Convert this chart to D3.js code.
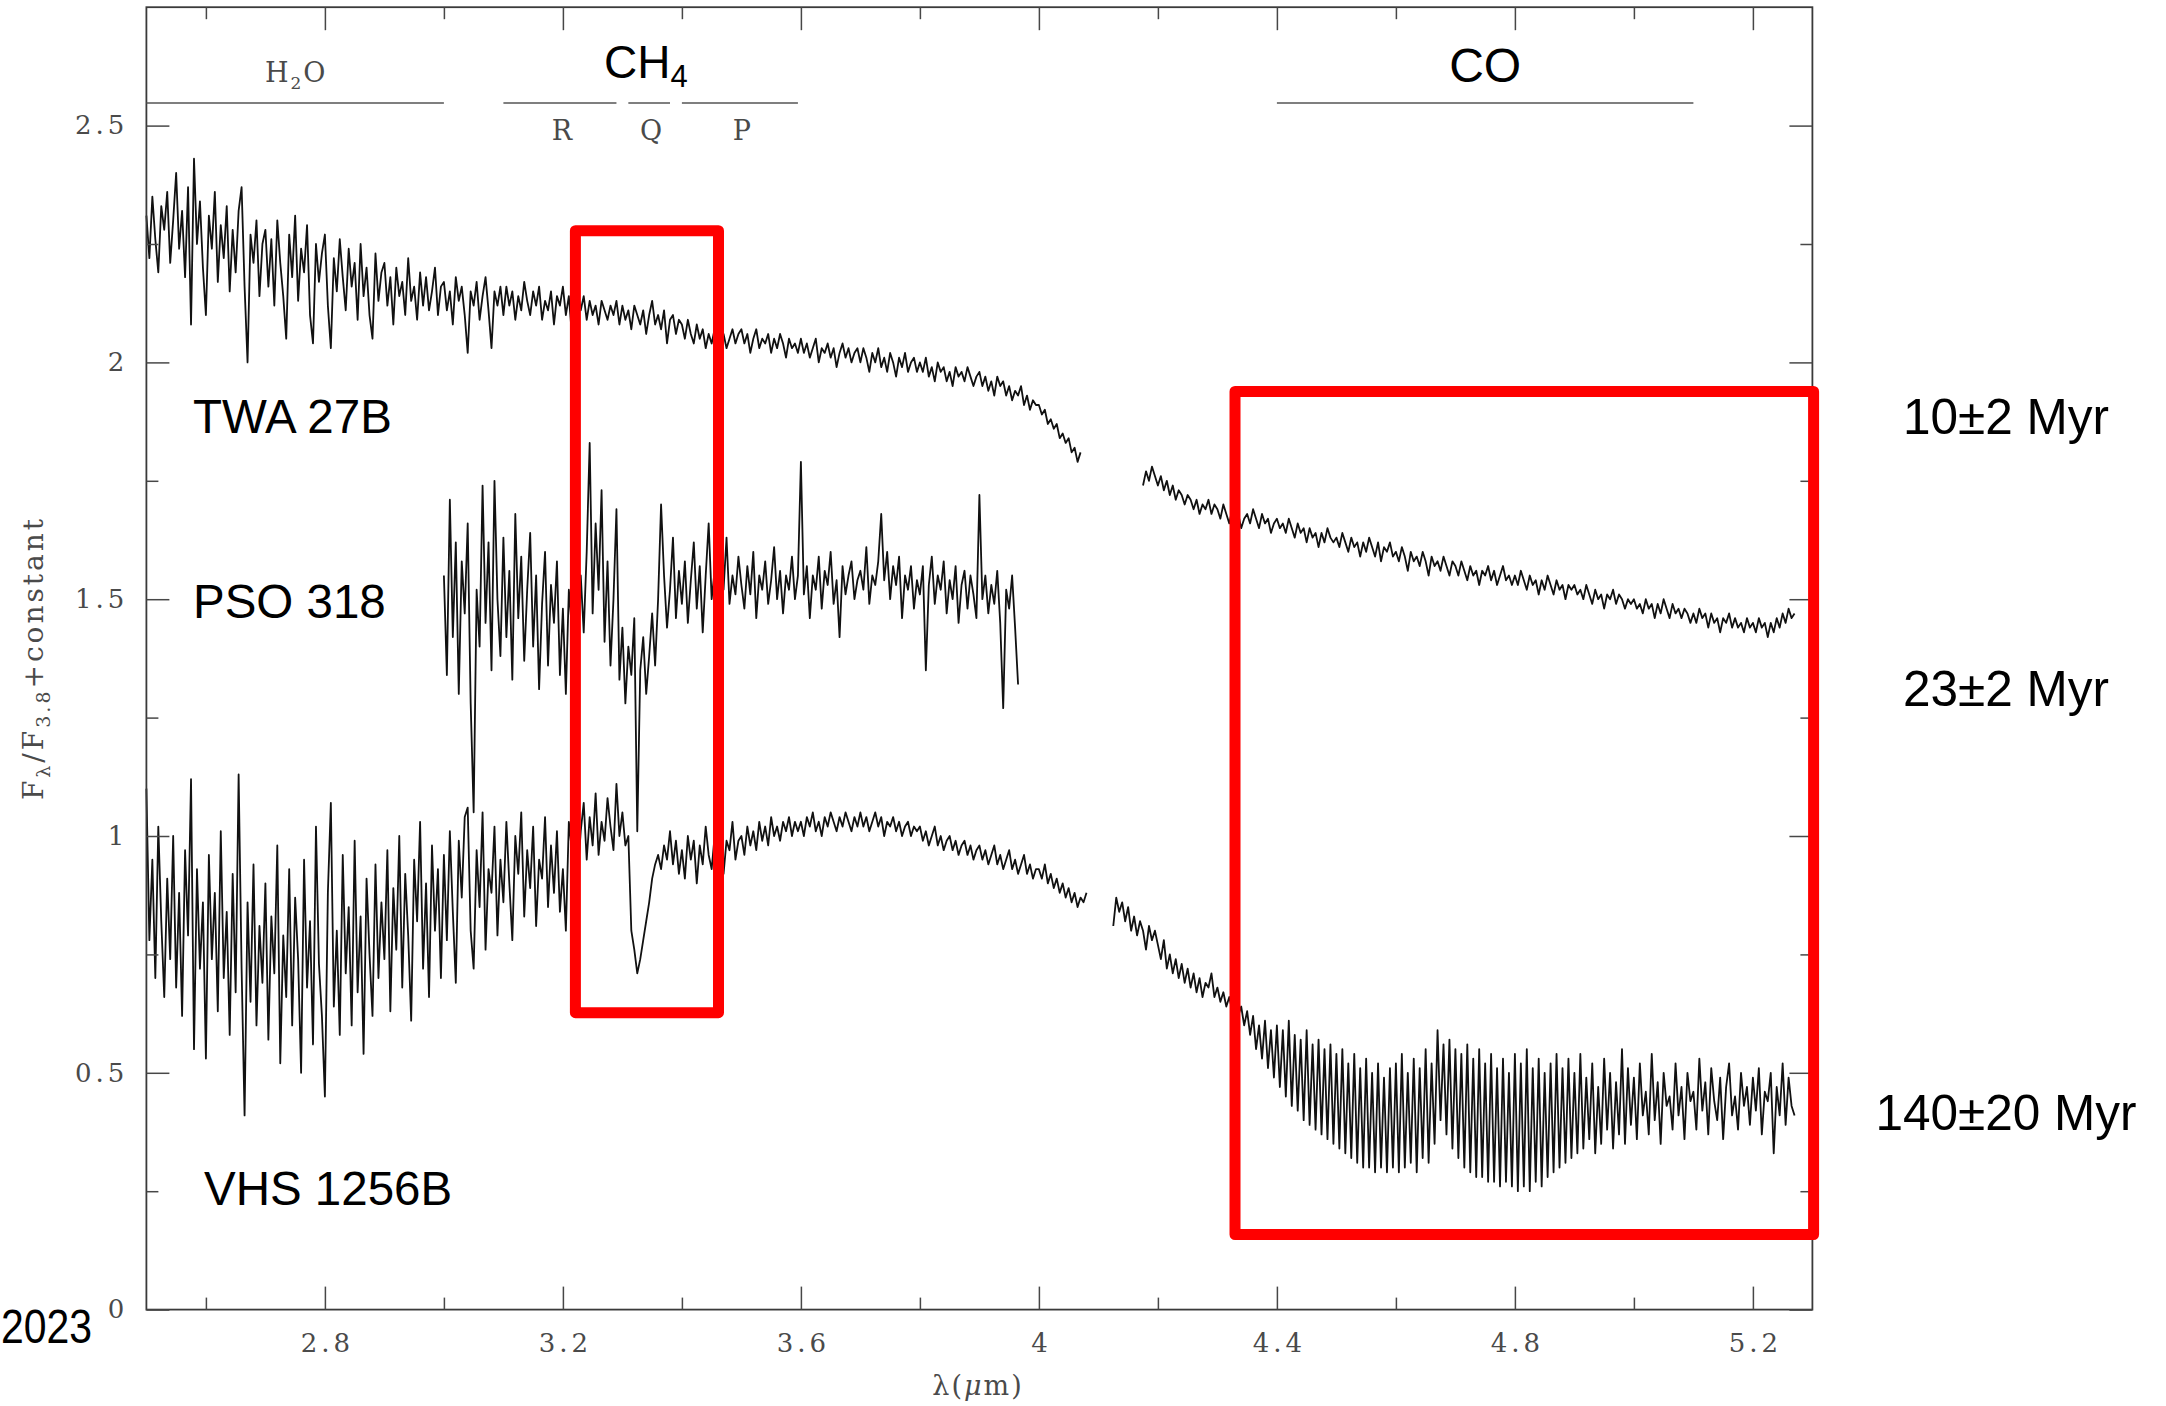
<!DOCTYPE html>
<html>
<head>
<meta charset="utf-8">
<script src="https://cdn.jsdelivr.net/npm/d3@7"></script>
<style>
  html, body { margin: 0; padding: 0; background: #ffffff; }
  svg { display: block; }
</style>
</head>
<body>
<svg id="chart" width="2166" height="1406"></svg>
<script>
// ---------------- DATA ----------------
// wavelength grid step of every spectrum segment (micron)
const specStep = 0.005;

// TWA 27B, part 1: 2.500 - 4.070 micron
const twaSeg1Start = 2.500;
const twaSeg1Flux = [
  2.31,2.22,2.35,2.26,2.19,2.33,2.28,2.36,2.21,2.30,2.40,2.24,2.32,2.18,2.37,2.08,2.43,2.25,2.34,2.20,
  2.10,2.31,2.24,2.36,2.17,2.29,2.22,2.33,2.15,2.28,2.19,2.32,2.37,2.16,2.00,2.27,2.21,2.30,2.14,2.25,
  2.28,2.16,2.26,2.12,2.30,2.21,2.14,2.05,2.27,2.18,2.31,2.13,2.24,2.19,2.29,2.10,2.04,2.25,2.17,2.23,
  2.27,2.12,2.03,2.22,2.15,2.26,2.18,2.11,2.24,2.16,2.21,2.09,2.25,2.14,2.20,2.10,2.05,2.23,2.13,2.19,
  2.21,2.12,2.18,2.08,2.20,2.14,2.17,2.10,2.22,2.13,2.16,2.09,2.19,2.12,2.18,2.11,2.15,2.20,2.10,2.16,
  2.17,2.11,2.15,2.08,2.18,2.13,2.16,2.10,2.02,2.15,2.12,2.17,2.09,2.14,2.18,2.11,2.03,2.15,2.12,2.16,
  2.10,2.16,2.12,2.15,2.09,2.14,2.11,2.17,2.13,2.10,2.15,2.12,2.16,2.09,2.13,2.11,2.15,2.08,2.14,2.12,
  2.16,2.10,2.14,2.06,2.13,2.15,2.11,2.14,2.09,2.13,2.10,2.12,2.08,2.13,2.11,2.09,2.12,2.10,2.13,2.08,
  2.12,2.09,2.11,2.07,2.12,2.10,2.08,2.11,2.06,2.10,2.13,2.08,2.10,2.07,2.11,2.04,2.09,2.10,2.06,2.09,
  2.08,2.05,2.09,2.06,2.04,2.08,2.05,2.07,2.03,2.06,2.04,2.07,2.09,2.05,2.06,2.03,2.05,2.07,2.04,2.06,
  2.07,2.04,2.06,2.02,2.05,2.07,2.03,2.05,2.04,2.06,2.02,2.05,2.03,2.06,2.04,2.01,2.05,2.03,2.04,2.02,
  2.05,2.02,2.04,2.01,2.03,2.05,2.00,2.03,2.02,2.04,2.01,2.03,1.99,2.02,2.04,2.01,2.03,2.00,2.02,2.03,
  2.00,2.03,2.01,1.98,2.02,2.00,2.03,1.99,2.01,1.98,2.02,2.00,1.97,2.01,1.99,2.02,1.98,2.00,2.01,1.98,
  2.00,1.98,2.01,1.97,1.99,1.96,2.00,1.98,1.99,1.96,1.98,1.95,1.99,1.97,1.98,1.96,1.99,1.97,1.95,1.97,
  1.98,1.95,1.97,1.94,1.96,1.93,1.97,1.95,1.96,1.93,1.95,1.92,1.94,1.93,1.95,1.91,1.93,1.90,1.92,1.91,
  1.91,1.89,1.90,1.87,1.88,1.86,1.87,1.84,1.85,1.83,1.84,1.81,1.82,1.79,1.81
];

// TWA 27B, part 2: 4.175 - 5.270 micron
const twaSeg2Start = 4.175;
const twaSeg2Flux = [
  1.74,1.77,1.75,1.78,1.76,
  1.74,1.76,1.73,1.75,1.72,1.74,1.71,1.73,1.72,1.70,1.72,1.71,1.69,1.71,1.68,1.70,1.69,1.71,1.68,1.70,
  1.69,1.67,1.70,1.68,1.66,1.69,1.67,1.68,1.65,1.67,1.68,1.66,1.69,1.67,1.65,1.68,1.66,1.67,1.64,1.66,
  1.67,1.65,1.66,1.64,1.67,1.65,1.63,1.66,1.64,1.65,1.62,1.65,1.63,1.64,1.61,1.64,1.62,1.65,1.63,1.62,
  1.63,1.61,1.64,1.62,1.60,1.63,1.61,1.62,1.59,1.62,1.60,1.63,1.61,1.59,1.62,1.58,1.61,1.60,1.62,1.59,
  1.60,1.58,1.61,1.59,1.56,1.60,1.58,1.59,1.57,1.60,1.58,1.55,1.59,1.57,1.58,1.56,1.59,1.57,1.55,1.58,
  1.57,1.55,1.58,1.56,1.54,1.57,1.55,1.56,1.53,1.56,1.55,1.57,1.54,1.56,1.53,1.55,1.57,1.54,1.55,1.53,
  1.55,1.53,1.56,1.54,1.52,1.55,1.53,1.54,1.51,1.54,1.52,1.55,1.53,1.51,1.54,1.52,1.53,1.50,1.53,1.52,
  1.53,1.51,1.52,1.50,1.53,1.51,1.49,1.52,1.50,1.51,1.48,1.51,1.50,1.52,1.49,1.51,1.50,1.48,1.50,1.49,
  1.50,1.48,1.49,1.47,1.50,1.48,1.49,1.46,1.49,1.47,1.50,1.48,1.46,1.49,1.47,1.48,1.46,1.48,1.47,1.45,
  1.47,1.45,1.48,1.46,1.47,1.44,1.47,1.45,1.46,1.43,1.46,1.45,1.47,1.44,1.46,1.44,1.45,1.43,1.46,1.44,
  1.45,1.43,1.46,1.44,1.45,1.42,1.45,1.43,1.46,1.44,1.47,1.45,1.48,1.46,1.47
];

// PSO 318: 3.000 - 3.965 micron
const psoStart = 3.000;
const psoFlux = [
  1.55,1.34,1.71,1.42,1.62,1.30,1.58,1.47,1.66,1.28,1.05,1.52,1.40,1.74,1.45,1.62,1.35,1.75,1.50,1.38,
  1.63,1.42,1.56,1.33,1.68,1.46,1.59,1.37,1.52,1.64,1.40,1.55,1.31,1.49,1.60,1.36,1.53,1.45,1.58,1.34,
  1.48,1.30,1.52,1.44,1.62,1.38,1.55,1.43,1.60,1.83,1.47,1.66,1.52,1.73,1.41,1.58,1.36,1.50,1.69,1.33,
  1.44,1.28,1.40,1.34,1.46,1.01,1.35,1.42,1.30,1.38,1.47,1.36,1.50,1.70,1.55,1.44,1.52,1.63,1.46,1.56,
  1.49,1.58,1.45,1.54,1.62,1.48,1.57,1.43,1.55,1.66,1.50,1.56,1.47,1.58,1.52,1.63,1.49,1.55,1.51,1.59,
  1.53,1.48,1.57,1.51,1.60,1.46,1.55,1.52,1.58,1.49,1.54,1.61,1.50,1.56,1.47,1.55,1.52,1.59,1.50,1.55,
  1.79,1.51,1.57,1.46,1.55,1.52,1.59,1.48,1.56,1.53,1.60,1.49,1.54,1.42,1.57,1.51,1.55,1.58,1.50,1.54,
  1.56,1.52,1.61,1.49,1.55,1.53,1.58,1.68,1.54,1.60,1.50,1.57,1.53,1.59,1.46,1.55,1.52,1.57,1.48,1.54,
  1.51,1.57,1.35,1.53,1.59,1.49,1.55,1.52,1.58,1.47,1.54,1.50,1.57,1.45,1.53,1.56,1.48,1.55,1.51,1.46,
  1.72,1.50,1.55,1.47,1.53,1.49,1.56,1.45,1.27,1.52,1.48,1.55,1.44,1.32
];

// VHS 1256B, part 1: 2.500 - 4.080 micron
const vhsSeg1Start = 2.500;
const vhsSeg1Flux = [
  1.10,0.78,0.95,0.70,1.02,0.82,0.66,0.91,0.74,1.00,0.68,0.88,0.62,0.97,0.79,1.12,0.55,0.93,0.72,0.86,
  0.53,0.96,0.74,0.88,0.63,1.01,0.70,0.84,0.58,0.92,0.67,1.13,0.72,0.41,0.86,0.65,0.94,0.60,0.81,0.69,
  0.90,0.57,0.83,0.71,0.98,0.52,0.79,0.66,0.93,0.60,0.87,0.74,0.50,0.95,0.68,0.82,0.56,1.02,0.73,0.62,
  0.45,0.88,1.07,0.64,0.80,0.58,0.96,0.71,0.85,0.60,0.99,0.67,0.83,0.54,0.91,0.75,0.62,0.94,0.70,0.86,
  0.74,0.97,0.63,0.89,0.76,1.00,0.68,0.92,0.79,0.61,0.95,0.82,1.03,0.72,0.90,0.66,0.98,0.80,0.93,0.70,
  0.96,0.78,1.01,0.84,0.69,0.99,0.87,1.04,1.06,0.80,0.72,0.97,0.85,1.05,0.76,0.93,0.88,1.02,0.79,0.95,
  0.86,1.03,0.90,0.78,1.00,0.92,1.05,0.83,0.97,0.89,1.02,0.81,0.95,0.91,1.04,0.85,0.98,0.88,1.01,0.84,
  0.93,0.80,1.03,0.97,1.06,0.92,1.01,1.07,0.95,1.04,0.98,1.09,0.96,1.03,0.99,1.08,1.02,0.97,1.11,1.00,
  1.05,0.98,1.00,0.80,0.76,0.71,0.74,0.78,0.82,0.86,0.91,0.94,0.96,0.93,0.98,0.95,1.01,0.94,0.99,0.92,
  0.97,0.91,1.00,0.95,0.99,0.90,0.98,0.94,1.02,0.96,0.93,1.00,0.95,0.98,0.92,0.99,0.97,1.03,0.95,0.99,
  1.00,0.96,1.02,0.98,1.01,0.97,1.03,0.99,1.02,0.98,1.04,1.00,1.02,0.99,1.03,1.01,1.04,1.00,1.03,1.01,
  1.03,1.00,1.04,1.02,1.05,1.01,1.03,1.00,1.04,1.02,1.05,1.03,1.01,1.04,1.02,1.05,1.03,1.01,1.04,1.02,
  1.05,1.02,1.04,1.01,1.03,1.05,1.02,1.04,1.00,1.03,1.02,1.04,1.01,1.03,1.00,1.02,1.03,1.00,1.02,1.01,
  1.02,0.99,1.01,0.98,1.00,1.02,0.98,1.00,0.97,0.99,1.00,0.97,0.99,0.96,0.98,0.99,0.96,0.98,0.95,0.97,
  0.98,0.95,0.97,0.94,0.96,0.98,0.94,0.96,0.93,0.95,0.97,0.93,0.95,0.92,0.94,0.96,0.92,0.94,0.91,0.93,
  0.93,0.91,0.94,0.90,0.92,0.89,0.91,0.88,0.90,0.87,0.89,0.86,0.88,0.85,0.87,0.86,0.88
];

// VHS 1256B, part 2: 4.125 - 5.270 micron
const vhsSeg2Start = 4.125;
const vhsSeg2Flux = [
  0.81,0.87,0.84,0.86,0.82,0.85,0.80,0.83,0.79,0.82,0.80,0.76,0.81,0.78,0.80,
  0.77,0.74,0.78,0.72,0.75,0.71,0.74,0.70,0.73,0.69,0.72,0.68,0.71,0.67,0.70,0.66,0.69,0.68,0.71,0.66,
  0.68,0.65,0.67,0.64,0.66,0.63,0.65,0.62,0.64,0.60,0.63,0.58,0.62,0.55,0.60,0.53,0.61,0.51,0.59,0.49,
  0.60,0.47,0.59,0.45,0.61,0.43,0.58,0.42,0.57,0.40,0.59,0.39,0.56,0.38,0.57,0.37,0.55,0.36,0.56,0.35,
  0.54,0.34,0.55,0.33,0.52,0.32,0.54,0.31,0.51,0.30,0.53,0.30,0.50,0.29,0.52,0.30,0.49,0.29,0.51,0.30,
  0.52,0.29,0.54,0.30,0.50,0.31,0.53,0.29,0.51,0.32,0.55,0.31,0.52,0.35,0.59,0.40,0.56,0.37,0.57,0.34,
  0.55,0.32,0.54,0.30,0.56,0.29,0.53,0.28,0.55,0.28,0.52,0.27,0.54,0.27,0.51,0.26,0.53,0.27,0.50,0.26,
  0.54,0.25,0.52,0.26,0.55,0.25,0.51,0.27,0.53,0.26,0.50,0.28,0.52,0.29,0.54,0.30,0.51,0.31,0.53,0.32,
  0.50,0.33,0.54,0.34,0.49,0.36,0.52,0.33,0.47,0.35,0.53,0.38,0.50,0.34,0.48,0.37,0.55,0.35,0.51,0.39,
  0.49,0.36,0.52,0.41,0.46,0.37,0.54,0.40,0.48,0.35,0.50,0.43,0.45,0.38,0.52,0.41,0.47,0.36,0.50,0.44,
  0.46,0.38,0.53,0.42,0.48,0.37,0.51,0.44,0.40,0.49,0.36,0.47,0.52,0.41,0.45,0.38,0.50,0.43,0.47,0.39,
  0.49,0.42,0.51,0.37,0.46,0.44,0.50,0.33,0.47,0.41,0.52,0.39,0.49,0.43,0.41
];

// axis ticks and labels
const xDomain = [2.5, 5.3];
const yDomain = [0, 2.75];
const xMajorTicks = [2.8, 3.2, 3.6, 4.0, 4.4, 4.8, 5.2];
const xMinorTicks = [2.6, 3.0, 3.4, 3.8, 4.2, 4.6, 5.0];
const yMajorTicks = [0, 0.5, 1, 1.5, 2, 2.5];
const yMinorTicks = [0.25, 0.75, 1.25, 1.75, 2.25];

// object names and ages
const objectNames = ["TWA 27B", "PSO 318", "VHS 1256B"];
const objectAges = ["10±2 Myr", "23±2 Myr", "140±20 Myr"];

// molecular band markers: [start, end] in micron
const h2oBand = [2.5, 3.0];
const ch4Branches = [["R", 3.10, 3.29], ["Q", 3.31, 3.38], ["P", 3.40, 3.595]];
const coBand = [4.40, 5.10];

// highlight boxes: [lambda0, lambda1, flux0, flux1]
const highlightBoxes = [[3.221, 3.4615, 0.627, 2.278], [4.3296, 5.302, 0.1586, 1.9386]];

// ---------------- DRAWING ----------------
const svg = d3.select("#chart");
const x = d3.scaleLinear().domain(xDomain).range([146.4, 1812.4]);
const y = d3.scaleLinear().domain(yDomain).range([1309.6, 7.2]);

const serif = "'DejaVu Serif', 'Liberation Serif', serif";
const sans = "'Liberation Sans', Arial, Helvetica, sans-serif";
const axisGrey = "#474747";

// spectra
function spectrum(start, flux) {
  return flux.map((f, i) => ({ w: start + i * specStep, f: f }));
}
const segments = [
  spectrum(twaSeg1Start, twaSeg1Flux),
  spectrum(twaSeg2Start, twaSeg2Flux),
  spectrum(psoStart, psoFlux),
  spectrum(vhsSeg1Start, vhsSeg1Flux),
  spectrum(vhsSeg2Start, vhsSeg2Flux)
];
const line = d3.line().x(d => x(d.w)).y(d => y(d.f));
svg.append("g")
  .selectAll("path")
  .data(segments)
  .join("path")
  .attr("d", line)
  .attr("fill", "none")
  .attr("stroke", "#111")
  .attr("stroke-width", 1.8)
  .attr("stroke-linejoin", "round");

// frame
svg.append("rect")
  .attr("x", x(xDomain[0])).attr("y", y(yDomain[1]))
  .attr("width", x(xDomain[1]) - x(xDomain[0]))
  .attr("height", y(yDomain[0]) - y(yDomain[1]))
  .attr("fill", "none").attr("stroke", "#3a3a3a").attr("stroke-width", 1.8);

function styleAxis(g) {
  g.select(".domain").remove();
  g.selectAll(".tick line").attr("stroke", axisGrey).attr("stroke-width", 1.5);
  g.selectAll(".tick text")
    .attr("fill", "#4a4a4a")
    .style("font-family", serif)
    .style("font-size", "26px")
    .style("letter-spacing", "4px");
}
const fmt = d3.format("~g");

// bottom
svg.append("g").attr("transform", `translate(0,${y(0)})`)
  .call(d3.axisBottom(x).tickValues(xMajorTicks).tickSize(-23).tickPadding(24).tickFormat(fmt))
  .call(styleAxis)
  .call(g => g.selectAll(".tick text").attr("dx", "2px"));
svg.append("g").attr("transform", `translate(0,${y(0)})`)
  .call(d3.axisBottom(x).tickValues(xMinorTicks).tickSize(-12).tickFormat(""))
  .call(styleAxis);
// top
svg.append("g").attr("transform", `translate(0,${y(yDomain[1])})`)
  .call(d3.axisTop(x).tickValues(xMajorTicks).tickSize(-23).tickFormat(""))
  .call(styleAxis);
svg.append("g").attr("transform", `translate(0,${y(yDomain[1])})`)
  .call(d3.axisTop(x).tickValues(xMinorTicks).tickSize(-12).tickFormat(""))
  .call(styleAxis);
// left
svg.append("g").attr("transform", `translate(${x(xDomain[0])},0)`)
  .call(d3.axisLeft(y).tickValues(yMajorTicks).tickSize(-23).tickPadding(18).tickFormat(fmt))
  .call(styleAxis);
svg.append("g").attr("transform", `translate(${x(xDomain[0])},0)`)
  .call(d3.axisLeft(y).tickValues(yMinorTicks).tickSize(-12).tickFormat(""))
  .call(styleAxis);
// right
svg.append("g").attr("transform", `translate(${x(xDomain[1])},0)`)
  .call(d3.axisRight(y).tickValues(yMajorTicks).tickSize(-23).tickFormat(""))
  .call(styleAxis);
svg.append("g").attr("transform", `translate(${x(xDomain[1])},0)`)
  .call(d3.axisRight(y).tickValues(yMinorTicks).tickSize(-12).tickFormat(""))
  .call(styleAxis);

// axis titles
const xt = svg.append("text")
  .attr("x", 978).attr("y", 1395)
  .attr("text-anchor", "middle")
  .attr("fill", "#4a4a4a")
  .style("font-family", serif).style("font-size", "27px").style("letter-spacing", "2px");
xt.append("tspan").text("λ(");
xt.append("tspan").style("font-style", "italic").text("μ");
xt.append("tspan").text("m)");

const yt = svg.append("text")
  .attr("transform", "translate(43,658) rotate(-90)")
  .attr("text-anchor", "middle")
  .attr("fill", "#4a4a4a")
  .style("font-family", serif).style("font-size", "28px").style("letter-spacing", "3px");
yt.append("tspan").text("F");
yt.append("tspan").attr("dy", 7).style("font-size", "19px").text("λ");
yt.append("tspan").attr("dy", -7).text("/F");
yt.append("tspan").attr("dy", 7).style("font-size", "19px").text("3.8");
yt.append("tspan").attr("dy", -7).text("+constant");

// band markers
const bandLineY = 103;
const bandG = svg.append("g").attr("stroke", "#555").attr("stroke-width", 1.6);
bandG.append("line").attr("x1", x(h2oBand[0])).attr("x2", x(h2oBand[1])).attr("y1", bandLineY).attr("y2", bandLineY);
bandG.selectAll("line.ch4").data(ch4Branches).join("line").attr("class", "ch4")
  .attr("x1", d => x(d[1])).attr("x2", d => x(d[2])).attr("y1", bandLineY).attr("y2", bandLineY);
bandG.append("line").attr("x1", x(coBand[0])).attr("x2", x(coBand[1])).attr("y1", bandLineY).attr("y2", bandLineY);

const h2o = svg.append("text")
  .attr("x", x((h2oBand[0] + h2oBand[1]) / 2) + 1).attr("y", 82)
  .attr("text-anchor", "middle").attr("fill", "#4a4a4a")
  .style("font-family", serif).style("font-size", "27px").style("letter-spacing", "2px");
h2o.append("tspan").text("H");
h2o.append("tspan").attr("dy", 7).style("font-size", "17px").text("2");
h2o.append("tspan").attr("dy", -7).text("O");

svg.append("g").selectAll("text").data(ch4Branches).join("text")
  .attr("x", d => x((d[1] + d[2]) / 2) + 2).attr("y", 140)
  .attr("text-anchor", "middle").attr("fill", "#4a4a4a")
  .style("font-family", serif).style("font-size", "27px")
  .text(d => d[0]);

const ch4 = svg.append("text")
  .attr("x", 604).attr("y", 78)
  .attr("fill", "#000")
  .style("font-family", sans).style("font-size", "46px");
ch4.append("tspan").text("CH");
ch4.append("tspan").attr("dy", 9).style("font-size", "31px").text("4");

svg.append("text")
  .attr("x", x((coBand[0] + coBand[1]) / 2)).attr("y", 82)
  .attr("text-anchor", "middle").attr("fill", "#000")
  .style("font-family", sans).style("font-size", "48px")
  .text("CO");

// object names (left) and ages (right)
const nameLayout = [[193, 433], [193, 618], [204, 1205]];
svg.append("g").selectAll("text").data(objectNames).join("text")
  .attr("x", (d, i) => nameLayout[i][0]).attr("y", (d, i) => nameLayout[i][1])
  .attr("fill", "#000")
  .style("font-family", sans).style("font-size", "47.5px")
  .text(d => d);

const ageLayout = [434, 706, 1130];
svg.append("g").selectAll("text").data(objectAges).join("text")
  .attr("x", 2006).attr("y", (d, i) => ageLayout[i])
  .attr("text-anchor", "middle").attr("fill", "#000")
  .style("font-family", sans).style("font-size", "49.5px")
  .text(d => d);

svg.append("text")
  .attr("x", 1).attr("y", 1343)
  .attr("textLength", 91).attr("lengthAdjust", "spacingAndGlyphs")
  .attr("fill", "#000")
  .style("font-family", sans).style("font-size", "48px")
  .text("2023");

// red highlight boxes
svg.append("g").selectAll("rect").data(highlightBoxes).join("rect")
  .attr("x", d => x(d[0])).attr("y", d => y(d[3]))
  .attr("width", d => x(d[1]) - x(d[0]))
  .attr("height", d => y(d[2]) - y(d[3]))
  .attr("fill", "none")
  .attr("stroke", "#ff0000")
  .attr("stroke-width", 11)
  .attr("stroke-linejoin", "round");
</script>
</body>
</html>
